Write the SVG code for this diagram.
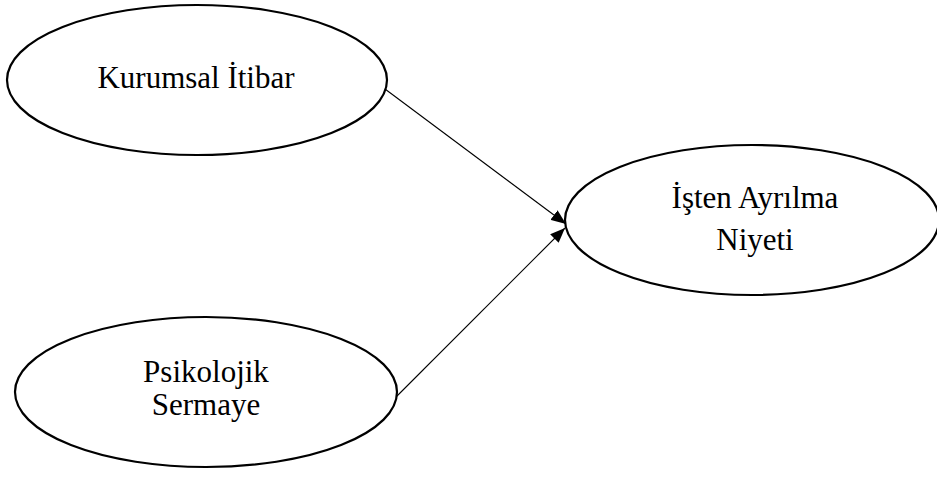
<svg xmlns="http://www.w3.org/2000/svg" width="937" height="477" viewBox="0 0 937 477">
<defs>
<style>
.node ellipse{fill:#fff;stroke:#000;stroke-width:2.2}
.node text{font-family:"Liberation Serif","Times New Roman",serif;font-size:31px;fill:#000;text-anchor:middle}
.edge{stroke:#000;stroke-width:1.1;fill:none;marker-end:url(#arr)}
</style>
<marker id="arr" markerUnits="userSpaceOnUse" markerWidth="16" markerHeight="12" refX="15" refY="6" orient="auto">
<path d="M0,0 L15,6 L0,12 Z" fill="#000"/>
</marker>
</defs>
<g id="connectors">
<line class="edge" x1="385" y1="89" x2="566" y2="224"/>
<line class="edge" x1="395" y1="398" x2="565" y2="228"/>
</g>
<g id="node-kurumsal" class="node">
<ellipse cx="197" cy="80" rx="190" ry="75"/>
<text x="196" y="88">Kurumsal İtibar</text>
</g>
<g id="node-psikolojik" class="node">
<ellipse cx="206" cy="392" rx="191" ry="75"/>
<text x="206" y="382">Psikolojik</text>
<text x="206" y="415">Sermaye</text>
</g>
<g id="node-isten" class="node">
<ellipse cx="752" cy="220" rx="187" ry="75"/>
<text x="755" y="208">İşten Ayrılma</text>
<text x="755" y="250">Niyeti</text>
</g>
</svg>
